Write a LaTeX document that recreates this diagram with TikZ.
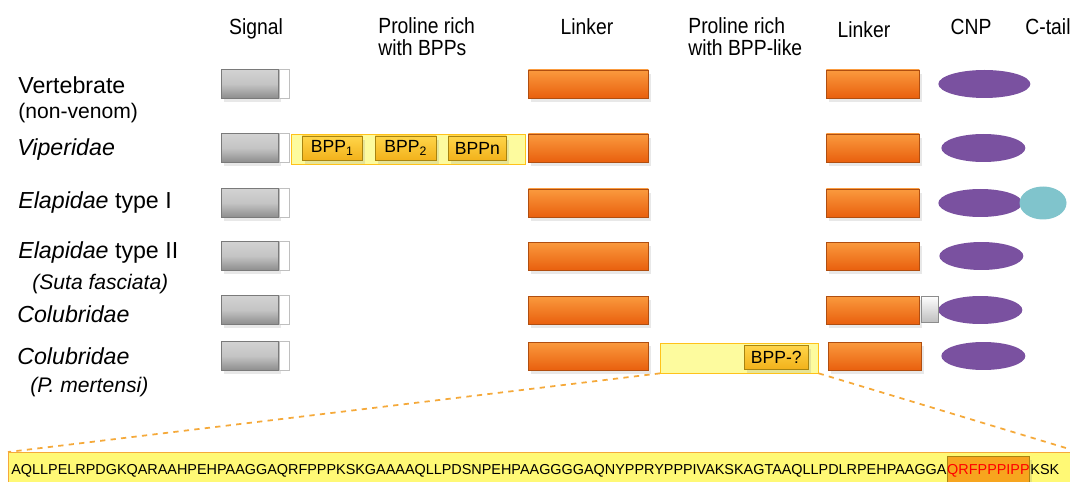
\documentclass[tikz,border=0pt]{standalone}
\usepackage{fontspec}
\setmainfont{Liberation Sans}
\newfontfamily\narrowfont[FakeStretch=0.88]{Liberation Sans}
\usepackage{xcolor}
\usepackage{tikz}
\usetikzlibrary{shapes,positioning,calc,shadows,arrows.meta}

\definecolor{sigtop}{HTML}{D2D2D2}
\definecolor{sigbot}{HTML}{8C8C8C}
\definecolor{sigline}{HTML}{7A7A7A}
\definecolor{orgtop}{HTML}{FA9A3E}
\definecolor{orgbot}{HTML}{E9600E}
\definecolor{orgline}{HTML}{B04E10}
\definecolor{cnpcol}{HTML}{7A51A0}
\definecolor{tailcol}{HTML}{80C4CC}
\definecolor{pryel}{HTML}{FDFB9E}
\definecolor{prline}{HTML}{FFC21A}
\definecolor{bpptop}{HTML}{FFD54A}
\definecolor{bppbot}{HTML}{F2B21B}
\definecolor{bppline}{HTML}{A88410}
\definecolor{seqyel}{HTML}{FFF975}
\definecolor{seqline}{HTML}{F5A93A}
\definecolor{hlcol}{HTML}{F7A51E}

\tikzset{
  boxshadow/.style={drop shadow={opacity=0.18, shadow xshift=1.5pt, shadow yshift=-2pt}},
  sigbox/.style={draw=sigline, top color=sigtop, bottom color=sigbot, middle color=sigtop!80!sigbot,
    minimum width=1.14cm, minimum height=0.58cm, inner sep=0pt, anchor=west, boxshadow},
  tipbox/.style={draw=black!25, fill=white, minimum width=0.2cm, minimum height=0.58cm, inner sep=0pt},
  linkbox/.style={draw=orgline, top color=orgtop, bottom color=orgbot, middle color=orgtop!50!orgbot,
    minimum height=0.56cm, inner sep=0pt, anchor=west, boxshadow},
  cnpshape/.style={ellipse, fill=cnpcol, minimum width=1.68cm, minimum height=0.56cm, inner sep=0pt, anchor=west},
  tailshape/.style={ellipse, fill=tailcol, minimum width=0.94cm, minimum height=0.66cm, inner sep=0pt},
  prbox/.style={draw=prline, fill=pryel, minimum height=0.6cm, inner sep=0pt, anchor=west},
  bppbox/.style={draw=bppline, top color=bpptop, bottom color=bppbot, minimum height=0.48cm,
    inner sep=0pt, anchor=west, font=\fontsize{10}{12}\selectfont, boxshadow},
  gapbox/.style={draw=black!45, top color=white, bottom color=black!25, minimum width=0.34cm,
    minimum height=0.52cm, inner sep=0pt, anchor=west},
  rowlab/.style={anchor=west, inner sep=0pt, font=\fontsize{13.2}{15}\selectfont},
  sublab/.style={anchor=west, inner sep=0pt, font=\fontsize{12}{14}\selectfont},
  headlab/.style={inner sep=0pt, font=\narrowfont\fontsize{12.5}{12.8}\selectfont},
  zoomline/.style={seqline, dashed, line width=1pt},
  seqtxt/.style={inner sep=0pt, font=\fontsize{8.2}{10}\selectfont},
}

\begin{document}
\begin{tikzpicture}[x=0.02cm, y=-0.02cm]
    \useasboundingbox (0,0) rectangle (1070,482);

    % column headings
    \node[headlab] (hsig) at (256,29) {Signal};
    \node[headlab, anchor=north west, align=left] (hpro) at (378,17) {Proline rich\\with BPPs};
    \node[headlab] (hlink) at (587,27) {Linker};
    \node[headlab, anchor=north west, align=left] (hprol) at (688,17) {Proline rich\\with BPP-like};
    \node[headlab] (hlinkb) at (864,30) {Linker};
    \node[headlab] (hcnp) at (971,27) {CNP};
    \node[headlab] (htail) at (1048,27) {C-tail};

    % row labels
    \node[rowlab] (lvert) at (18,85) {Vertebrate};
    \node[sublab] (lnonv) at (18,113) {(non-venom)};
    \node[rowlab] (lvip) at (17,150) {\textit{Viperidae}};
    \node[rowlab] (lela) at (18,203) {\textit{Elapidae} type I};
    \node[rowlab] (lelb) at (18,253) {\textit{Elapidae} type II};
    \node[sublab] (lsuta) at (32,284) {\textit{(Suta fasciata)}};
    \node[rowlab] (lcol) at (17,314) {\textit{Colubridae}};
    \node[rowlab] (lcolb) at (17,356) {\textit{Colubridae}};
    \node[sublab] (lmert) at (30,387) {\textit{(P. mertensi)}};

    % domains common to all rows
    \foreach \r/\y/\lx/\cx/\cw in {1/84/826/938/1.84cm, 2/148/826/941/1.68cm, 3/203/826/938/1.68cm,
                                   4/256/826/939/1.68cm, 5/310/826/938/1.68cm, 6/356/828/941/1.68cm} {
        \node[sigbox] (sig\r) at (221,\y) {};
        \node[tipbox, right=0pt of sig\r] (tip\r) {};
        \node[linkbox, minimum width=2.4cm] (linka\r) at (528,\y) {};
        \node[linkbox, minimum width=1.86cm] (linkb\r) at (\lx,\y) {};
        \node[cnpshape, minimum width=\cw] (cnp\r) at (\cx,\y) {};
    }

    % Viperidae: proline rich region with BPPs
    \node[prbox, minimum width=4.68cm] (prvip) at (291,149) {};
    \node[bppbox, minimum width=1.2cm] (bppa) at (302,148) {BPP\textsubscript{1}};
    \node[bppbox, minimum width=1.22cm] (bppb) at (375,148) {BPP\textsubscript{2}};
    \node[bppbox, minimum width=1.16cm] (bppc) at (448,148) {BPPn};

    % Elapidae type I: C-tail
    \node[tailshape, right=-2pt of cnp3] (tail3) {};

    % Colubridae: extra segment before CNP
    \node[gapbox] (gap5) at (921,309) {};

    % Colubridae (P. mertensi): proline rich with BPP-like
    \node[prbox, minimum width=3.16cm] (prcol) at (660,358) {};
    \node[bppbox, minimum width=1.28cm] (bppq) at (744,357) {BPP-?};

    % sequence of the BPP-like region
    \node[draw=seqline, fill=seqyel, line width=0.8pt, anchor=north west,
          minimum width=21.4cm, minimum height=0.66cm, inner sep=0pt] (seqbar) at (8,452) {};
    \node[seqtxt, anchor=base west] (seqa) at (11,474)
        {AQLLPELRPDGKQARAAHPEHPAAGGAQRFPPPKSKGAAAAQLLPDSNPEHPAAGGGGAQNYPPRYPPPIVAKSKAGTAAQLLPDLRPEHPAAGGA};
    \node[seqtxt, right=0pt of seqa.base east, anchor=base west, draw=bppline, fill=hlcol,
          text=red, inner ysep=4.5pt, boxshadow] (seqhl) {QRFPPPIPP};
    \node[seqtxt, right=0pt of seqhl.base east, anchor=base west] (seqc) {KSK};

    \draw[zoomline] (prcol.south west) -- (seqbar.north west);
    \draw[zoomline] (prcol.south east) -- (seqbar.north east);
\end{tikzpicture}
\end{document}
